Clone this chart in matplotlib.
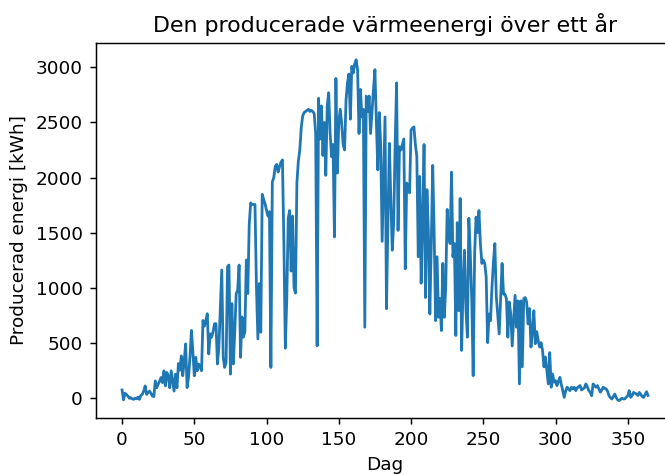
import numpy as np
import matplotlib
matplotlib.use('Agg')
import matplotlib.pyplot as plt

# producerad värmeenergi per dag (kWh), avläst ur originalbilden
energi = [
  70, -20, 40, 30, 15, -5, 0, -10, -15, -5,
  -10, 5, -15, 20, 30, 60, 107, 30, 45, 60,
  40, 15, 10, 152, 90, 122, 150, 183, 137, 244,
  107, 229, 198, 91, 244, 150, 60, 214, 91, 310,
  250, 380, 200, 330, 489, 92, 184, 367, 611, 420,
  199, 367, 245, 306, 280, 245, 702, 650, 702, 763,
  397, 580, 550, 600, 672, 672, 306, 458, 800, 1160,
  367, 275, 320, 1190, 1205, 214, 855, 306, 600, 946,
  977, 1205, 367, 733, 550, 600, 1251, 946, 1571, 1770,
  1755, 1755, 1755, 1007, 534, 1037, 595, 1847, 1800, 1760,
  1700, 1650, 1690, 275, 1960, 2000, 2100, 2120, 2050, 2100,
  2140, 2160, 1400, 450, 900, 1630, 1700, 1150, 1650, 1000,
  950, 1950, 2150, 2250, 2450, 2560, 2590, 2600, 2610, 2620,
  2600, 2610, 2600, 2580, 2400, 470, 2720, 2350, 2650, 2200,
  2500, 2020, 2650, 2770, 2400, 2190, 2300, 1460, 2900, 2040,
  2500, 2620, 2490, 2300, 2250, 2700, 2860, 2940, 2530, 3010,
  2950, 3030, 3070, 2980, 2400, 2800, 2550, 2620, 640, 2740,
  2600, 2740, 2400, 2600, 2800, 2980, 2500, 2070, 2590, 2300,
  1420, 2000, 2550, 808, 1600, 2310, 1800, 1340, 1590, 2310,
  2860, 1520, 2280, 2250, 2300, 2350, 1170, 1950, 1900, 1860,
  2430, 2450, 2460, 2300, 2190, 1280, 2010, 1040, 1600, 2300,
  910, 1890, 1500, 760, 1400, 2110, 1500, 700, 1280, 730,
  900, 610, 1220, 730, 1000, 1710, 1500, 1400, 2050, 1280,
  1400, 565, 1590, 790, 1810, 430, 1000, 1340, 800, 550,
  1630, 1310, 900, 200, 1310, 1640, 1500, 1700, 1400, 1220,
  1250, 1220, 1100, 500, 760, 700, 1000, 1230, 1400, 920,
  750, 580, 900, 1220, 940, 940, 900, 550, 870, 760,
  470, 700, 930, 640, 880, 125, 880, 280, 900, 910,
  870, 670, 810, 460, 600, 790, 490, 600, 520, 460,
  500, 430, 280, 370, 250, 125, 410, 95, 215, 140,
  155, 110, 150, 185, 120, 64, 3, 60, 95, 80,
  64, 95, 80, 95, 64, 90, 100, 110, 70, 80,
  90, 125, 100, 64, 50, 18, 125, 110, 95, 110,
  80, 50, 70, 95, 85, 80, 60, 18, 0, -12,
  10, 33, 0, -20, -27, -15, -5, -12, -10, 5,
  18, 64, 3, 20, 48, 40, 33, 20, 48, 30,
  10, 3, 30, 55, 20,
]
dag = np.arange(len(energi))

fig = plt.figure(figsize=(665 / 133, 475 / 133), dpi=133)
# axeln går ut förbi bildens högra kant, som i originalet
ax = fig.add_axes([0.144, 0.1206, 0.870, 0.7895])
ax.plot(dag, energi)
ax.spines['right'].set_visible(False)
ax.set_title('Den producerade värmeenergi över ett år')
ax.set_xlabel('Dag')
ax.set_ylabel('Producerad energi [kWh]')

fig.savefig('out.png', dpi=133)
